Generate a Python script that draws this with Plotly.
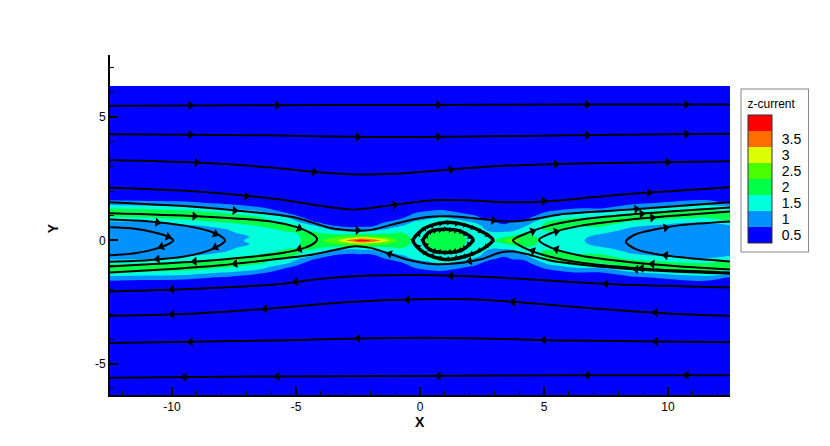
import numpy as np
import plotly.graph_objects as go

# z-current sampled on a coarse grid (upper half, mirrored about y=0)
x_cols = [-12.5, -11, -9.5, -8, -6.5, -5.3, -4.3, -3.4, -2.8, -2.4, -2.0, -1.5, -0.8, -0.2,
          0.4, 0.9, 1.5, 2.2, 2.9, 3.4, 3.75, 4.2, 5.2, 6.3, 7.3, 8.5, 10, 11.5, 12.5]
y_rows = [0, 0.15, 0.3, 0.45, 0.6, 0.75, 0.9, 1.05, 1.2, 1.35, 1.5, 1.7, 2.0, 6.25]
jz_cols = [
    [1.0, 1.0, 1.0, 1.0, 1.0, 1.2, 1.6, 2.0, 2.0, 1.6, 1.0, 0.6, 0.35, 0.2],
    [1.0, 1.0, 1.0, 1.0, 1.05, 1.25, 1.7, 2.0, 1.95, 1.5, 0.95, 0.55, 0.35, 0.2],
    [1.0, 1.0, 1.0, 1.05, 1.15, 1.45, 1.9, 2.0, 1.8, 1.4, 0.9, 0.5, 0.3, 0.2],
    [1.1, 1.1, 1.15, 1.2, 1.4, 1.8, 2.0, 1.9, 1.55, 1.1, 0.7, 0.45, 0.3, 0.2],
    [1.35, 1.3, 1.4, 1.55, 1.8, 1.95, 1.85, 1.55, 1.2, 0.75, 0.45, 0.35, 0.25, 0.2],
    [1.5, 1.55, 1.7, 1.9, 1.95, 1.55, 1.3, 0.85, 0.5, 0.35, 0.3, 0.25, 0.22, 0.2],
    [2.0, 2.0, 1.85, 1.6, 1.3, 0.8, 0.45, 0.35, 0.3, 0.25, 0.22, 0.2, 0.2, 0.2],
    [2.6, 2.2, 1.55, 1.1, 0.7, 0.4, 0.3, 0.25, 0.22, 0.2, 0.2, 0.2, 0.2, 0.2],
    [3.5, 2.4, 1.45, 0.95, 0.6, 0.4, 0.3, 0.25, 0.22, 0.2, 0.2, 0.2, 0.2, 0.2],
    [4.1, 2.5, 1.5, 1.0, 0.65, 0.4, 0.3, 0.25, 0.22, 0.2, 0.2, 0.2, 0.2, 0.2],
    [3.8, 2.4, 1.5, 1.0, 0.65, 0.4, 0.3, 0.25, 0.22, 0.2, 0.2, 0.2, 0.2, 0.2],
    [3.1, 2.3, 1.6, 1.2, 0.9, 0.7, 0.45, 0.3, 0.25, 0.22, 0.2, 0.2, 0.2, 0.2],
    [2.1, 2.0, 1.8, 1.55, 1.2, 0.95, 0.7, 0.45, 0.3, 0.25, 0.2, 0.2, 0.2, 0.2],
    [1.6, 1.6, 1.55, 1.5, 1.45, 1.3, 1.0, 0.85, 0.6, 0.4, 0.3, 0.2, 0.2, 0.2],
    [1.95, 1.9, 1.8, 1.55, 1.5, 1.45, 1.2, 0.95, 0.75, 0.5, 0.35, 0.25, 0.2, 0.2],
    [2.1, 2.05, 2.0, 1.9, 1.55, 1.5, 1.35, 1.05, 0.8, 0.55, 0.35, 0.25, 0.2, 0.2],
    [1.95, 1.9, 1.85, 1.6, 1.5, 1.45, 1.15, 0.9, 0.65, 0.45, 0.3, 0.22, 0.2, 0.2],
    [1.55, 1.55, 1.5, 1.45, 1.4, 1.2, 0.95, 0.7, 0.45, 0.3, 0.25, 0.2, 0.2, 0.2],
    [1.55, 1.5, 1.3, 1.1, 1.0, 0.8, 0.5, 0.35, 0.25, 0.22, 0.2, 0.2, 0.2, 0.2],
    [2.3, 1.7, 1.35, 1.05, 0.85, 0.6, 0.4, 0.3, 0.25, 0.2, 0.2, 0.2, 0.2, 0.2],
    [2.6, 1.9, 1.4, 1.1, 0.95, 0.8, 0.5, 0.35, 0.25, 0.2, 0.2, 0.2, 0.2, 0.2],
    [2.1, 2.0, 1.7, 1.4, 1.15, 0.85, 0.55, 0.35, 0.25, 0.2, 0.2, 0.2, 0.2, 0.2],
    [1.5, 1.5, 1.6, 1.9, 2.0, 1.85, 1.45, 1.05, 0.7, 0.4, 0.3, 0.25, 0.2, 0.2],
    [1.35, 1.4, 1.5, 1.6, 1.85, 2.0, 1.8, 1.4, 1.0, 0.6, 0.35, 0.25, 0.2, 0.2],
    [1.05, 1.1, 1.3, 1.55, 1.85, 2.0, 1.8, 1.45, 1.0, 0.6, 0.35, 0.25, 0.2, 0.2],
    [1.0, 1.0, 1.05, 1.15, 1.35, 1.7, 2.0, 1.9, 1.45, 1.0, 0.65, 0.4, 0.3, 0.2],
    [1.0, 1.0, 1.0, 1.05, 1.15, 1.4, 1.85, 2.0, 1.75, 1.3, 0.85, 0.5, 0.3, 0.2],
    [1.0, 1.0, 1.0, 1.0, 1.05, 1.3, 1.7, 2.0, 1.9, 1.5, 1.05, 0.6, 0.35, 0.2],
    [1.0, 1.0, 1.0, 1.0, 1.2, 1.6, 2.0, 2.0, 1.7, 1.3, 0.7, 0.45, 0.3, 0.2],
]

levels = [0.5, 1, 1.5, 2, 2.5, 3, 3.5]
level_labels = ["0.5", "1", "1.5", "2", "2.5", "3", "3.5"]
band_colors = ["#0000ff", "#0092ff", "#00ffdb", "#00ff49", "#49ff00", "#dbff00", "#ff6d00", "#ff0000"]

# streamtraces (ordered along the field direction)
u1_x = [-12.5, -6, 0, 6, 12.5]
u1_y = [5.45, 5.47, 5.48, 5.5, 5.5]
u2_x = [-12.5, -6, -2, 2, 6, 12.5]
u2_y = [4.3, 4.25, 4.18, 4.2, 4.25, 4.32]
u3_x = [-12.5, -9, -6, -4, -2.5, -1, 1, 3, 6, 9, 12.5]
u3_y = [3.24, 3.15, 2.95, 2.75, 2.67, 2.7, 2.85, 3.0, 3.1, 3.15, 3.2]
u4_x = [-12.5, -9, -5.65, -4, -2.75, -1.5, 0.5, 2, 3.75, 5.65, 8, 10.5, 12.5]
u4_y = [2.13, 1.98, 1.66, 1.4, 1.25, 1.38, 1.63, 1.62, 1.54, 1.62, 1.85, 2.02, 2.15]
u5_x = [-12.5, -9, -6.5, -5, -3.6, -2.7, -2.0, -1.2, -0.5, 0.3, 1.2, 2.2, 3.0, 3.7, 4.5, 5.65, 8.5, 12.5]
u5_y = [1.54, 1.35, 1.12, 0.92, 0.5, 0.4, 0.42, 0.62, 0.8, 0.95, 0.98, 0.9, 0.8, 0.77, 0.85, 1.05, 1.25, 1.54]

d1_x = [12.5, 6, 0, -6, -12.5]
d1_y = [-5.45, -5.45, -5.48, -5.5, -5.55]
d2_x = [12.5, 6, 2, -2, -6, -12.5]
d2_y = [-4.12, -4.05, -3.95, -3.95, -4.05, -4.15]
d3_x = [12.5, 10, 7, 4, 2, 0, -3, -6, -9, -12.5]
d3_y = [-3.05, -2.95, -2.75, -2.5, -2.38, -2.38, -2.5, -2.75, -2.95, -3.05]
d4_x = [12.5, 10.5, 8, 5.6, 4, 2, 0, -2, -4, -5.8, -9, -12.5]
d4_y = [-1.9, -1.85, -1.78, -1.65, -1.55, -1.45, -1.4, -1.42, -1.55, -1.78, -1.95, -2.06]
d5_x = [12.5, 10, 8, 6.5, 5.2, 4.3, 3.75, 3.2, 2.5, 1.5, 0.5, -0.5, -1.2, -2, -2.7, -3.5, -4.5, -6, -8, -10, -12.5]
d5_y = [-1.35, -1.25, -1.12, -0.98, -0.8, -0.55, -0.45, -0.5, -0.75, -0.92, -0.95, -0.78, -0.55, -0.3, -0.24, -0.4, -0.6, -0.78, -1.0, -1.15, -1.3]

a1_x = [-12.5, -11.5, -10.7, -10.15, -9.95, -10.15, -10.7, -11.5, -12.5]
a1_y = [0.53, 0.47, 0.32, 0.15, 0.0, -0.15, -0.35, -0.52, -0.6]
a2_x = [-12.5, -11, -9.5, -8.5, -8.0, -7.86, -8.0, -8.5, -9.5, -11, -12.5]
a2_y = [0.85, 0.78, 0.6, 0.38, 0.15, 0.0, -0.15, -0.4, -0.65, -0.8, -0.86]
a3_x = [-12.5, -9, -6, -5, -4.5, -4.2, -4.15, -4.2, -4.6, -5.5, -7, -9, -12.5]
a3_y = [1.1, 0.98, 0.77, 0.55, 0.35, 0.15, 0.05, -0.05, -0.28, -0.5, -0.68, -0.85, -1.05]

b1_x = [12.5, 10.5, 9.5, 8.7, 8.3, 8.7, 9.5, 10.5, 12.5]
b1_y = [-0.85, -0.68, -0.55, -0.35, -0.05, 0.25, 0.45, 0.62, 0.77]
b2_x = [12.5, 10.5, 8.5, 6.5, 5.3, 4.8, 5.3, 6.5, 8.5, 10.5, 12.5]
b2_y = [-1.17, -1.05, -0.88, -0.62, -0.3, 0.02, 0.3, 0.6, 0.85, 1.02, 1.17]
b3_x = [12.5, 10.5, 8.5, 6.5, 5.2, 4.2, 3.75, 4.2, 5.2, 6.5, 8.5, 10.5, 12.5]
b3_y = [-1.3, -1.22, -1.1, -0.9, -0.65, -0.3, 0.0, 0.25, 0.6, 0.85, 1.05, 1.2, 1.33]

i1_x = [-0.28, 0.2, 1.0, 1.9, 2.6, 2.94, 2.6, 1.9, 1.0, 0.2, -0.28]
i1_y = [0.0, 0.5, 0.73, 0.6, 0.3, 0.02, -0.3, -0.62, -0.77, -0.52, 0.0]
i2_x = [0.12, 0.4, 1.0, 1.7, 2.14, 1.7, 1.0, 0.4, 0.12]
i2_y = [0.0, 0.35, 0.45, 0.35, 0.03, -0.38, -0.49, -0.38, 0.0]

# arrow positions as fraction of trace length
loop_arrows = [0.2, 0.45, 0.55, 0.8]
island_arrows = list(np.linspace(0, 1, 22, endpoint=False))

traces = [
    (u1_x, u1_y, [0.13, 0.27, 0.53, 0.77, 0.93], 2), (u2_x, u2_y, [0.13, 0.4, 0.53, 0.77, 0.93], 2),
    (u3_x, u3_y, [0.14, 0.33, 0.55, 0.72, 0.9], 2), (u4_x, u4_y, [0.22, 0.46, 0.7, 0.87], 2),
    (u5_x, u5_y, [0.2, 0.4, 0.62, 0.85], 2),
    (d1_x, d1_y, [0.07, 0.23, 0.47, 0.73, 0.88], 2), (d2_x, d2_y, [0.12, 0.3, 0.6, 0.87], 2),
    (d3_x, d3_y, [0.12, 0.35, 0.52, 0.75, 0.9], 2), (d4_x, d4_y, [0.2, 0.45, 0.7, 0.9], 2),
    (d5_x, d5_y, [0.15, 0.42, 0.55, 0.8], 2),
    (a1_x, a1_y, [0.45, 0.6], 2), (a2_x, a2_y, loop_arrows, 2), (a3_x, a3_y, loop_arrows, 2),
    (b1_x, b1_y, [0.3, 0.7], 2), (b2_x, b2_y, loop_arrows, 2), (b3_x, b3_y, loop_arrows, 2),
    (i1_x, i1_y, island_arrows, 3.5), (i2_x, i2_y, island_arrows, 3.5),
]


def arrows_on(xs, ys, fracs):
    pts = np.column_stack([xs, ys]).astype(float)
    d = np.diff(pts, axis=0)
    seg = np.hypot(d[:, 0], d[:, 1])
    cum = np.concatenate([[0], np.cumsum(seg)])
    ax, ay, ang = [], [], []
    for f in fracs:
        s = f * cum[-1]
        i = min(max(np.searchsorted(cum, s, side="right") - 1, 0), len(seg) - 1)
        t = (s - cum[i]) / seg[i]
        p = pts[i] + t * d[i]
        ax.append(p[0])
        ay.append(p[1])
        ang.append(-np.degrees(np.arctan2(d[i][1], d[i][0])))
    return ax, ay, ang


y_full = [-v for v in y_rows[:0:-1]] + y_rows
z_up = np.array(jz_cols).T
z_full = np.vstack([z_up[:0:-1], z_up])

n = len(band_colors)
colorscale = []
for k, c in enumerate(band_colors):
    colorscale.append([k / n, c])
    colorscale.append([(k + 1) / n, c])

font = "Liberation Sans, Arial, Helvetica, sans-serif"

fig = go.Figure()
fig.add_trace(go.Contour(
    x=x_cols, y=y_full, z=z_full,
    zmin=0.25, zmax=4.25, autocontour=False,
    contours=dict(start=0.75, end=3.75, size=0.5, coloring="fill", showlines=False),
    line=dict(width=0),
    colorscale=colorscale,
    hoverinfo="skip",
    colorbar=dict(
        title=dict(text="z-current", side="top", font=dict(family=font, size=12, color="black")),
        tickvals=levels, ticktext=level_labels,
        ticks="outside", ticklen=7, tickcolor="rgba(0,0,0,0)",
        tickfont=dict(family=font, size=14, color="black"),
        thickness=24, lenmode="pixels", len=161,
        x=1.0194, xanchor="left", y=0.9, yanchor="top",
        xpad=6, ypad=7, outlinewidth=1, outlinecolor="#333",
        bgcolor="white", bordercolor="#888", borderwidth=1,
    ),
))

for xs, ys, fr, w in traces:
    fig.add_trace(go.Scatter(x=xs, y=ys, mode="lines", line=dict(color="black", width=w, shape="spline", smoothing=0.8),
                             hoverinfo="skip", showlegend=False))
    ax, ay, ang = arrows_on(xs, ys, fr)
    fig.add_trace(go.Scatter(x=ax, y=ay, mode="markers",
                             marker=dict(symbol="triangle-right", size=8 if w == 2 else 5, color="black", angle=ang),
                             hoverinfo="skip", showlegend=False))

axis_common = dict(showgrid=False, zeroline=False, showline=True, linecolor="black", linewidth=2,
                   ticks="inside", ticklen=8, tickwidth=2, tickcolor="black",
                   tickfont=dict(family=font, size=12, color="black"),
                   minor=dict(ticks="inside", ticklen=4, tickwidth=1, tickcolor="black", dtick=1))

# the page body adds an 8px offset, so margins are shifted to keep the plot area in place
fig.update_layout(
    width=830, height=446,
    margin=dict(l=102, r=108, t=47, b=59),
    paper_bgcolor="white", plot_bgcolor="white",
    showlegend=False,
    xaxis=dict(range=[-12.5, 12.5], tickvals=[-10, -5, 0, 5, 10],
               ticktext=["-10", "-5", "0", "5", "10"], **axis_common),
    yaxis=dict(range=[-6.25, 7.5], tickvals=[-5, 0, 5], ticktext=["-5", "0", "5"], **axis_common),
    annotations=[
        dict(text="<b>X</b>", x=0.5, y=-0.078, xref="paper", yref="paper", showarrow=False,
             font=dict(family=font, size=14, color="black"), yanchor="middle"),
        dict(text="<b>Y</b>", x=-0.092, y=0.49, xref="paper", yref="paper", showarrow=False, textangle=-90,
             font=dict(family=font, size=14, color="black"), xanchor="center"),
    ],
)

fig.write_html("out.html")
